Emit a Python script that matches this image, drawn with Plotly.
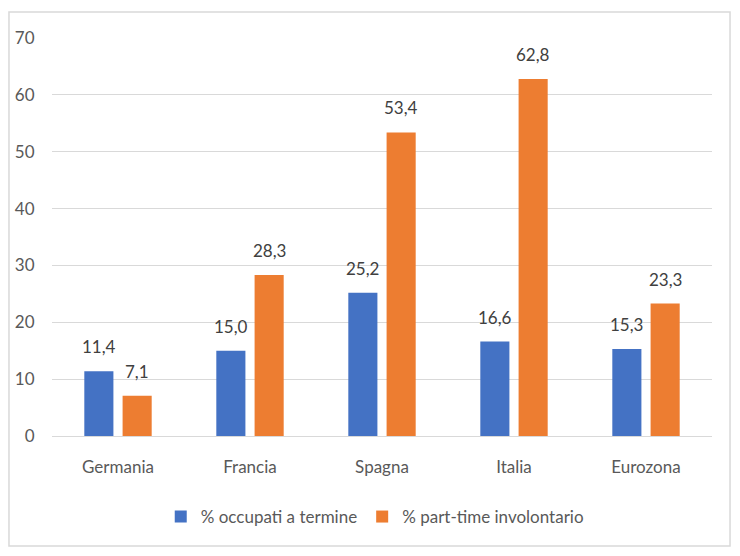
import plotly.graph_objects as go

categories = ["Germania", "Francia", "Spagna", "Italia", "Eurozona"]
occupati_a_termine = [11.4, 15.0, 25.2, 16.6, 15.3]
part_time_involontario = [7.1, 28.3, 53.4, 62.8, 23.3]
series_names = ["% occupati a termine", "% part-time involontario"]
y_ticks = [0, 10, 20, 30, 40, 50, 60, 70]

BLUE = "#4472C4"
ORANGE = "#ED7D31"
TEXT = "#595959"
FONT = "Lato"

BARGAP = 0.42
PLOT_W = 660
slot_px = PLOT_W / len(categories) * (1 - BARGAP) / 2

fig = go.Figure()
annotations = []
for i, (name, vals, col) in enumerate([(series_names[0], occupati_a_termine, BLUE),
                                       (series_names[1], part_time_involontario, ORANGE)]):
    fig.add_trace(go.Bar(
        x=categories, y=vals, name=name,
        marker=dict(color=col, line=dict(width=0)),
    ))
    shift = (i - 0.5) * slot_px
    for c, v in zip(categories, vals):
        annotations.append(dict(
            x=c, y=v, xref="x", yref="y", text=f"{v:.1f}".replace(".", ","),
            showarrow=False, xanchor="center", yanchor="bottom",
            xshift=shift, yshift=12,
            font=dict(family=FONT, size=17, color="#404040"),
        ))

fig.update_layout(
    width=740, height=556,
    margin=dict(l=44, r=36, t=30, b=128),
    paper_bgcolor="white", plot_bgcolor="white",
    separators=",.",
    barmode="group", bargap=BARGAP, bargroupgap=0.24,
    font=dict(family=FONT, size=17, color=TEXT),
    showlegend=True,
    legend=dict(orientation="h", x=0.489, xanchor="center", y=-0.2035, yanchor="middle",
                font=dict(family=FONT, size=17, color=TEXT), itemwidth=30,
                traceorder="normal"),
    xaxis=dict(showgrid=False, showline=True, linecolor="#D9D9D9", linewidth=1,
               ticks="outside", ticklen=16, tickcolor="rgba(0,0,0,0)", automargin=False,
               tickfont=dict(family=FONT, size=17, color=TEXT)),
    yaxis=dict(range=[0, 70], tickvals=y_ticks, showgrid=True, gridcolor="#D9D9D9",
               gridwidth=1, zeroline=False, showline=False, automargin=False,
               ticks="outside", ticklen=13, tickcolor="rgba(0,0,0,0)",
               tickfont=dict(family=FONT, size=17, color=TEXT)),
    annotations=annotations,
    shapes=[dict(type="rect", xref="paper", yref="paper",
                 x0=-0.0652, x1=1.0273, y0=-0.2764, y1=1.0653,
                 line=dict(color="#D9D9D9", width=1.5), layer="below")],
)

fig.write_html("out.html")
